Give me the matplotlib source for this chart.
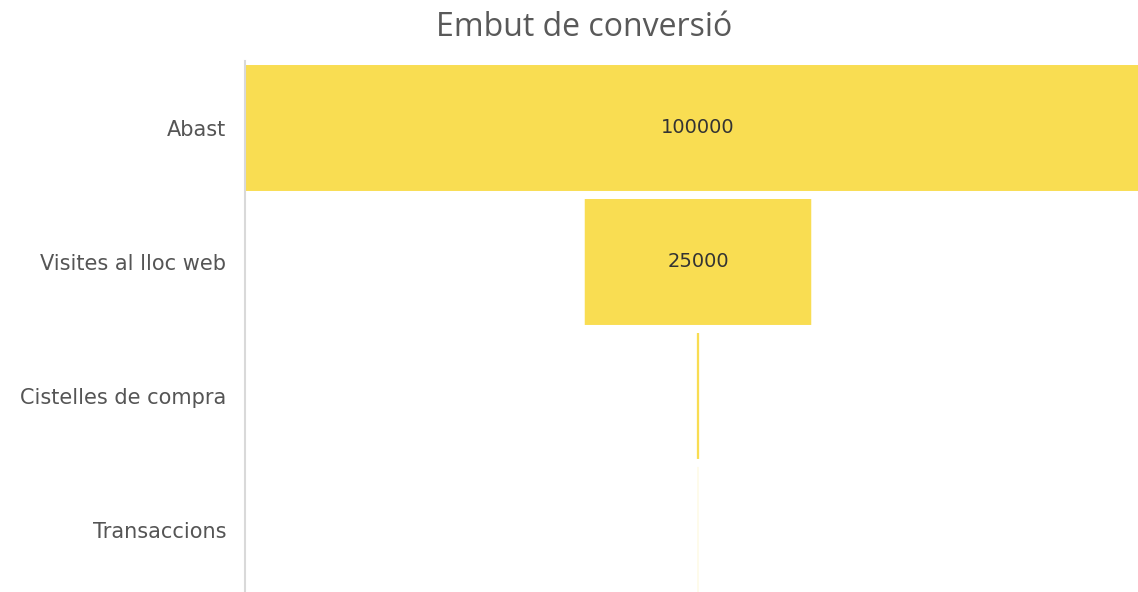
import matplotlib.pyplot as plt

# Funnel data
stages = ['Abast', 'Visites al lloc web', 'Cistelles de compra', 'Transaccions']
values = [100000, 25000, 250, 25]
show_labels = [True, True, False, False]

bar_color = '#F9DD52'

fig = plt.figure(figsize=(11.38, 5.92), dpi=100)
ax = fig.add_axes([245/1138, 0, 906/1138, 1 - 61/592])

y = list(range(len(stages)))
lefts = [-v/2 for v in values]
ax.barh(y, values, left=lefts, height=0.94, color=bar_color, linewidth=0,
        snap=False)

for i, v in enumerate(values):
    if show_labels[i]:
        ax.text(0, i, str(v), ha='center', va='center', fontsize=14,
                color='#333333', family='DejaVu Sans')

ax.set_xlim(-50000, 50000)
ax.set_ylim(3.463, -0.5)
ax.set_yticks(y)
ax.set_yticklabels(stages, fontsize=15, color='#555555', family='DejaVu Sans')
ax.tick_params(axis='y', length=0, pad=13.5)
ax.set_xticks([])
for s in ['top', 'right', 'bottom']:
    ax.spines[s].set_visible(False)
ax.spines['left'].set_color('#d9d9d9')
ax.spines['left'].set_linewidth(1.5)

fig.text(584/1138, 1 - 28/592, 'Embut de conversió', ha='center', va='center',
         fontsize=23, color='#595959', family='Open Sans')

fig.savefig('out.png', dpi=100)
